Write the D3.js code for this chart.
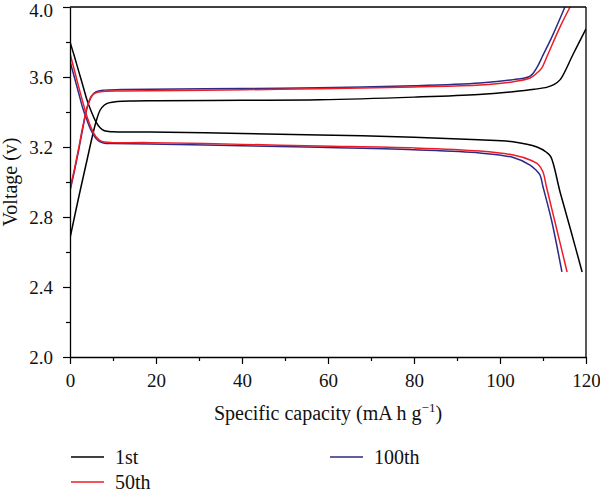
<!DOCTYPE html>
<html>
<head>
<meta charset="utf-8">
<script src="https://cdn.jsdelivr.net/npm/d3@7"></script>
<style>
  html, body { margin: 0; padding: 0; background: #fff; }
  svg { display: block; }
  text { font-family: "Liberation Serif", "DejaVu Serif", serif; fill: #111; }
</style>
</head>
<body>
<svg id="chart" width="600" height="493"></svg>
<script>
// ---------------- data ----------------
const seriesNames = ["1st", "50th", "100th"];

// 1st cycle
const capCharge1 = [0, 2, 4, 5, 6, 7, 8, 9, 11, 15, 20, 40, 58, 80, 95, 103, 108, 111, 112.5, 114, 117, 120];
const vCharge1   = [2.68, 2.91, 3.13, 3.24, 3.34, 3.41, 3.44, 3.452, 3.46, 3.463, 3.464, 3.467, 3.47, 3.485, 3.50, 3.516, 3.53, 3.542, 3.556, 3.585, 3.73, 3.875];
const capDis1    = [0, 1, 2, 3, 4, 5, 6, 7, 8, 10, 18.6, 40, 58, 80, 95, 103, 108.6, 110.8, 111.8, 114, 116.5, 119.1];
const vDis1      = [3.80, 3.72, 3.635, 3.55, 3.465, 3.40, 3.345, 3.31, 3.293, 3.287, 3.286, 3.277, 3.269, 3.256, 3.241, 3.23, 3.20, 3.17, 3.145, 2.94, 2.72, 2.486];

// 50th cycle
const capCharge50 = [0, 1, 2, 3, 4, 5, 6, 8, 12, 18.6, 40, 58, 80, 95.3, 103.1, 107, 108.5, 109.7, 110.9, 114, 116.3];
const vCharge50   = [2.96, 3.07, 3.19, 3.32, 3.43, 3.49, 3.51, 3.518, 3.52, 3.522, 3.527, 3.533, 3.543, 3.554, 3.573, 3.594, 3.621, 3.651, 3.716, 3.888, 4.0];
const capDis50    = [0, 1, 2, 3, 4, 5, 6, 7, 8, 10, 18.6, 40, 58, 80, 95.3, 103.1, 107, 108.9, 110, 110.8, 113, 115.6];
const vDis50      = [3.735, 3.64, 3.545, 3.455, 3.37, 3.305, 3.26, 3.236, 3.228, 3.225, 3.225, 3.215, 3.206, 3.195, 3.177, 3.154, 3.126, 3.10, 3.057, 2.973, 2.75, 2.486];

// 100th cycle
const capCharge100 = [0, 1, 2, 3, 4, 5, 6, 8, 12, 18.6, 40, 58, 80, 95.3, 103.1, 107, 108.6, 110, 112, 115.1];
const vCharge100   = [2.95, 3.06, 3.18, 3.31, 3.425, 3.49, 3.515, 3.525, 3.528, 3.530, 3.534, 3.538, 3.55, 3.566, 3.585, 3.605, 3.655, 3.725, 3.825, 4.0];
const capDis100    = [0, 1, 2, 3, 4, 5, 6, 7, 8, 10, 18.6, 40, 58, 80, 95.3, 103.1, 107, 108.3, 109.3, 110, 112, 114.4];
const vDis100      = [3.69, 3.60, 3.51, 3.42, 3.35, 3.29, 3.25, 3.23, 3.222, 3.22, 3.217, 3.207, 3.198, 3.184, 3.166, 3.14, 3.097, 3.07, 3.04, 2.973, 2.78, 2.486];

const xTicks = [0, 20, 40, 60, 80, 100, 120];
const xMinorTicks = [10, 30, 50, 70, 90, 110];
const yTicks = [2.0, 2.4, 2.8, 3.2, 3.6, 4.0];
const yMinorTicks = [2.2, 2.6, 3.0, 3.4, 3.8];

// ---------------- layout ----------------
const colors = { "1st": "#000000", "50th": "#ee1c24", "100th": "#2b2a86" };
const svg = d3.select("#chart");
const M = { left: 70, right: 14, top: 7, bottom: 136 };
const W = 600, H = 493;
const x = d3.scaleLinear().domain([0, 120]).range([M.left, W - M.right]);
const y = d3.scaleLinear().domain([2.0, 4.0]).range([H - M.bottom, M.top]);

const zip = (a, b) => a.map((v, i) => [v, b[i]]);
const curves = [
  { name: "1st", pts: zip(capCharge1, vCharge1) },
  { name: "1st", pts: zip(capDis1, vDis1) },
  { name: "100th", pts: zip(capCharge100, vCharge100) },
  { name: "100th", pts: zip(capDis100, vDis100) },
  { name: "50th", pts: zip(capCharge50, vCharge50) },
  { name: "50th", pts: zip(capDis50, vDis50) }
];

svg.append("defs").append("clipPath").attr("id", "clip")
  .append("rect").attr("x", x(0)).attr("y", y(4.0))
  .attr("width", x(120) - x(0)).attr("height", y(2.0) - y(4.0));

const line = d3.line().x(d => x(d[0])).y(d => y(d[1])).curve(d3.curveCatmullRom.alpha(0.5));

svg.append("g").attr("clip-path", "url(#clip)")
  .selectAll("path").data(curves).join("path")
  .attr("d", d => line(d.pts))
  .attr("fill", "none")
  .attr("stroke", d => colors[d.name])
  .attr("stroke-width", 1.5);

// frame (top & right)
svg.append("line").attr("x1", x(0)).attr("x2", x(120)).attr("y1", y(4.0)).attr("y2", y(4.0))
  .attr("stroke", "#000").attr("stroke-width", 1.3);
svg.append("line").attr("x1", x(120)).attr("x2", x(120)).attr("y1", y(4.0)).attr("y2", y(2.0))
  .attr("stroke", "#000").attr("stroke-width", 1.3);

// axes
const xAxis = svg.append("g").attr("transform", `translate(0,${y(2.0)})`)
  .call(d3.axisBottom(x).tickValues(xTicks).tickFormat(d3.format("d")).tickSizeInner(7).tickSizeOuter(0).tickPadding(10));
const xMinor = svg.append("g").attr("transform", `translate(0,${y(2.0)})`)
  .call(d3.axisBottom(x).tickValues(xMinorTicks).tickFormat("").tickSizeInner(4).tickSizeOuter(0));
const yAxis = svg.append("g").attr("transform", `translate(${x(0)},0)`)
  .call(d3.axisLeft(y).tickValues(yTicks).tickFormat(d3.format(".1f")).tickSizeInner(7).tickSizeOuter(0).tickPadding(10));
const yMinor = svg.append("g").attr("transform", `translate(${x(0)},0)`)
  .call(d3.axisLeft(y).tickValues(yMinorTicks).tickFormat("").tickSizeInner(4).tickSizeOuter(0));

[xAxis, xMinor, yAxis, yMinor].forEach(g => {
  g.selectAll(".domain").attr("stroke", "#000").attr("stroke-width", 1.3);
  g.selectAll(".tick line").attr("stroke", "#000").attr("stroke-width", 1.2);
  g.selectAll(".tick text").attr("font-size", 19).attr("font-family", '"Liberation Serif", serif').attr("fill", "#111");
});
xMinor.select(".domain").remove();
yMinor.select(".domain").remove();
// keep the top y label inside the canvas
yAxis.selectAll(".tick text").filter(d => d === 4.0).attr("dy", "0.5em");

// axis titles
const xt = svg.append("text").attr("x", (x(0) + x(120)) / 2).attr("y", 420)
  .attr("text-anchor", "middle").attr("font-size", 20);
xt.append("tspan").text("Specific capacity (mA h g");
xt.append("tspan").text("\u22121").attr("font-size", 13).attr("dy", -8);
xt.append("tspan").text(")").attr("dy", 8);

svg.append("text").attr("transform", `translate(17,${(y(2.0) + y(4.0)) / 2}) rotate(-90)`)
  .attr("text-anchor", "middle").attr("font-size", 20).text("Voltage (v)");

// legend
const legendItems = [
  { name: "1st", lx: 71, ly: 457 },
  { name: "50th", lx: 71, ly: 482 },
  { name: "100th", lx: 330, ly: 457 }
];
const lg = svg.append("g");
legendItems.forEach(it => {
  lg.append("line").attr("x1", it.lx).attr("x2", it.lx + 33).attr("y1", it.ly).attr("y2", it.ly)
    .attr("stroke", colors[it.name]).attr("stroke-width", 1.5);
  lg.append("text").attr("x", it.lx + 44).attr("y", it.ly + 7).attr("font-size", 20).text(it.name);
});
</script>
</body>
</html>
